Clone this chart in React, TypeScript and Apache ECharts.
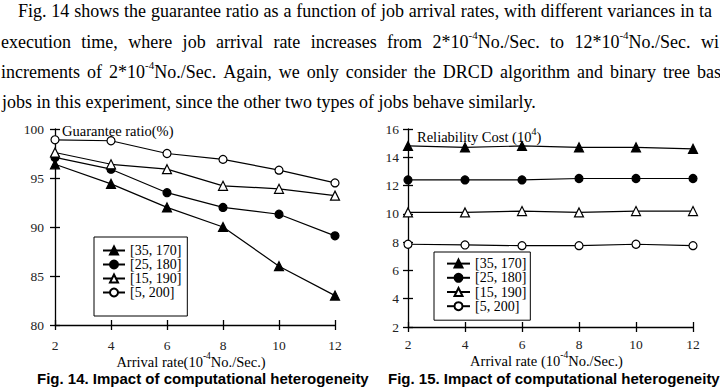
import React, { useEffect, useRef } from 'react';
import * as echarts from 'echarts';

// ---------- data ----------
const arrivalRates = [2, 4, 6, 8, 10, 12];
const varianceNames = ['[35, 170]', '[25, 180]', '[15, 190]', '[5, 200]'];

const guarantee35_170 = [96.4, 94.4, 92.0, 90.0, 86.0, 83.0];
const guarantee25_180 = [97.1, 95.9, 93.5, 92.0, 91.3, 89.1];
const guarantee15_190 = [97.6, 96.4, 95.9, 94.2, 93.9, 93.2];
const guarantee5_200 = [98.9, 98.8, 97.5, 96.9, 95.8, 94.5];

const cost35_170 = [14.8, 14.7, 14.8, 14.7, 14.7, 14.6];
const cost25_180 = [12.4, 12.4, 12.4, 12.5, 12.5, 12.5];
const cost15_190 = [10.1, 10.1, 10.2, 10.1, 10.2, 10.2];
const cost5_200 = [7.85, 7.8, 7.75, 7.75, 7.85, 7.75];

const guaranteeTicks = { min: 80, max: 100, interval: 5 };
const costTicks = { min: 2, max: 16, interval: 2 };
const rateTicks = { min: 2, max: 12, interval: 2 };

const paragraphLines = [
  'Fig. 14 shows the guarantee ratio as a function of job arrival rates, with different variances in ta',
  'execution time, where job arrival rate increases from 2*10{s|-4}No./Sec. to 12*10{s|-4}No./Sec. wi',
  'increments of 2*10{s|-4}No./Sec. Again, we only consider the DRCD algorithm and binary tree bas',
  'jobs in this experiment, since the other two types of jobs behave similarly.',
];
const captions = [
  'Fig. 14. Impact of computational heterogeneity',
  'Fig. 15. Impact of computational heterogeneity',
];

// ---------- styling ----------
const SERIF = 'Liberation Serif, serif';
const SANS = 'Liberation Sans, sans-serif';
const symbols = ['triangle', 'circle', 'triangle', 'circle'];
const symbolSizes = [9, 8, 9, 8];
const fills = ['#000', '#000', '#fff', '#fff'];

const PARA_FONT = 18;
const SUP_FONT = 11;
// [startX, start of last (cut) word or null for natural spacing, middle y]
const lineLayout: [number, number | null, number][] = [
  [18, 699, 11],
  [1, 701, 41.5],
  [1, 697, 72],
  [2, null, 102],
];

export default function App() {
  const ref = useRef<HTMLDivElement>(null);

  useEffect(() => {
    document.body.style.margin = '0';
    const chart = echarts.init(ref.current!, null, { renderer: 'svg' });

    const ctx = document.createElement('canvas').getContext('2d')!;
    const measure = (t: string, size: number) => {
      ctx.font = `${size}px ${SERIF}`;
      return ctx.measureText(t).width;
    };
    const wordWidth = (w: string) => {
      const parts = w.split(/\{s\|([^}]*)\}/);
      let total = 0;
      parts.forEach((p, i) => {
        total += measure(p, i % 2 === 1 ? SUP_FONT : PARA_FONT);
      });
      return total;
    };
    const textEl = (text: string, x: number, y: number) => ({
      type: 'text',
      x,
      y,
      silent: true,
      style: {
        text,
        fontSize: PARA_FONT,
        fontFamily: SERIF,
        fill: '#000',
        align: 'left',
        verticalAlign: 'middle',
        rich: {
          s: { fontSize: SUP_FONT, fontFamily: SERIF, fill: '#000', padding: [0, 0, 14, 0] },
        },
      },
    });

    const graphics: any[] = [];
    paragraphLines.forEach((line, li) => {
      const [x0, lastX, y] = lineLayout[li];
      if (lastX == null) {
        graphics.push(textEl(line, x0, y));
        return;
      }
      const words = line.split(' ');
      const widths = words.map(wordWidth);
      const inner = widths.slice(0, -1).reduce((a, b) => a + b, 0);
      const gap = (lastX - x0 - inner) / (words.length - 1);
      let x = x0;
      words.forEach((w, i) => {
        graphics.push(textEl(w, x, y));
        x += widths[i] + gap;
      });
    });
    const captionX = [37, 388];
    captions.forEach((c, i) => {
      graphics.push({
        type: 'text',
        x: captionX[i],
        y: 378,
        silent: true,
        style: {
          text: c,
          fontSize: 15,
          fontWeight: 'bold',
          fontFamily: SANS,
          fill: '#000',
          align: 'left',
          verticalAlign: 'middle',
        },
      });
    });

    const axisLineStyle = { color: '#000', width: 1.3 };
    const labelStyle = { fontSize: 13.5, fontFamily: SERIF, color: '#222' };

    const valueAxis = (gridIndex: number, ticks: any, primary: boolean, position: string, extra: any) => ({
      type: 'value',
      gridIndex,
      position,
      min: ticks.min,
      max: ticks.max,
      interval: ticks.interval,
      nameMoveOverlap: false,
      axisLine: { show: primary, onZero: false, lineStyle: axisLineStyle },
      axisTick: { show: true, inside: !primary, length: 5, lineStyle: axisLineStyle },
      axisLabel: { show: primary, ...labelStyle, ...(extra.axisLabel || {}) },
      splitLine: { show: false },
      ...(primary ? extra.main || {} : {}),
    });

    const xName = (name: string, gap: number) => ({
      name,
      nameLocation: 'middle',
      nameGap: gap,
      nameTextStyle: {
        fontSize: 14.5,
        fontFamily: SERIF,
        color: '#000',
        padding: [0, 8, 0, 0],
        rich: { s: { fontSize: 9.5, fontFamily: SERIF, color: '#000', padding: [0, 0, 12, 0] } },
      },
    });

    const leftData = [guarantee35_170, guarantee25_180, guarantee15_190, guarantee5_200];
    const rightData = [cost35_170, cost25_180, cost15_190, cost5_200];
    const makeSeries = (values: number[], i: number, axisIndex: number) => ({
      type: 'line',
      name: varianceNames[i],
      xAxisIndex: axisIndex,
      yAxisIndex: axisIndex,
      data: arrivalRates.map((x, k) => [x, values[k]]),
      symbol: symbols[i],
      symbolSize: symbolSizes[i],
      showSymbol: true,
      clip: false,
      lineStyle: { color: '#000', width: 1.2 },
      itemStyle: { color: fills[i], borderColor: '#000', borderWidth: 1.2 },
      emphasis: { disabled: true },
    });

    const legendBase = {
      data: varianceNames,
      orient: 'vertical',
      itemHeight: 10,
      itemGap: 0,
      backgroundColor: '#fff',
      borderColor: '#000',
      borderWidth: 1,
      borderRadius: 0,
      selectedMode: false,
    };

    const option: any = {
      animation: false,
      backgroundColor: '#fff',
      grid: [
        { left: 55, top: 129, width: 280, height: 196, containLabel: false },
        { left: 408, top: 129, width: 285, height: 198, containLabel: false },
      ],
      xAxis: [
        valueAxis(0, rateTicks, true, 'bottom', { axisLabel: { margin: 13 }, main: xName('Arrival rate(10{s|-4}No./Sec.)', 26) }),
        valueAxis(0, rateTicks, false, 'bottom', {}),
        valueAxis(1, rateTicks, true, 'bottom', { axisLabel: { margin: 10 }, main: xName('Arrival rate (10{s|-4}No./Sec.)', 23) }),
        valueAxis(1, rateTicks, false, 'bottom', {}),
      ],
      yAxis: [
        valueAxis(0, guaranteeTicks, true, 'left', {
          axisLabel: { margin: 11 },
          main: {
            name: 'Guarantee ratio(%)',
            nameLocation: 'end',
            nameGap: -2,
            nameTextStyle: {
              fontSize: 14.5,
              fontFamily: SERIF,
              color: '#000',
              align: 'left',
              verticalAlign: 'middle',
              padding: [0, 0, 0, 7],
            },
          },
        }),
        valueAxis(0, guaranteeTicks, false, 'left', {}),
        valueAxis(1, costTicks, true, 'left', {
          axisLabel: { margin: 9 },
          main: {
            name: 'Reliability Cost (10{s|4})',
            nameLocation: 'end',
            nameGap: -8,
            nameTextStyle: {
              fontSize: 14.5,
              fontFamily: SERIF,
              color: '#000',
              align: 'left',
              verticalAlign: 'middle',
              padding: [0, 0, 0, 9],
              rich: { s: { fontSize: 10, fontFamily: SERIF, color: '#000', padding: [0, 0, 12, 0] } },
            },
          },
        }),
        valueAxis(1, costTicks, false, 'left', {}),
      ],
      legend: [
        {
          ...legendBase,
          left: 94,
          top: 237,
          padding: [6.5, 6, 16.5, 8],
          itemWidth: 22,
          textStyle: { fontSize: 14, fontFamily: SERIF, color: '#000', lineHeight: 13.3 },
        },
        {
          ...legendBase,
          left: 434,
          top: 252,
          padding: [4.5, 4, 6.9, 12],
          itemWidth: 23,
          textStyle: { fontSize: 14, fontFamily: SERIF, color: '#000', lineHeight: 14.2 },
        },
      ],
      series: [
        ...leftData.map((v, i) => makeSeries(v, i, 0)),
        ...rightData.map((v, i) => makeSeries(v, i, 2)),
      ],
      graphic: { elements: graphics },
    };

    chart.setOption(option);
    return () => chart.dispose();
  }, []);

  return <div ref={ref} style={{ width: 720, height: 387 }} />;
}
